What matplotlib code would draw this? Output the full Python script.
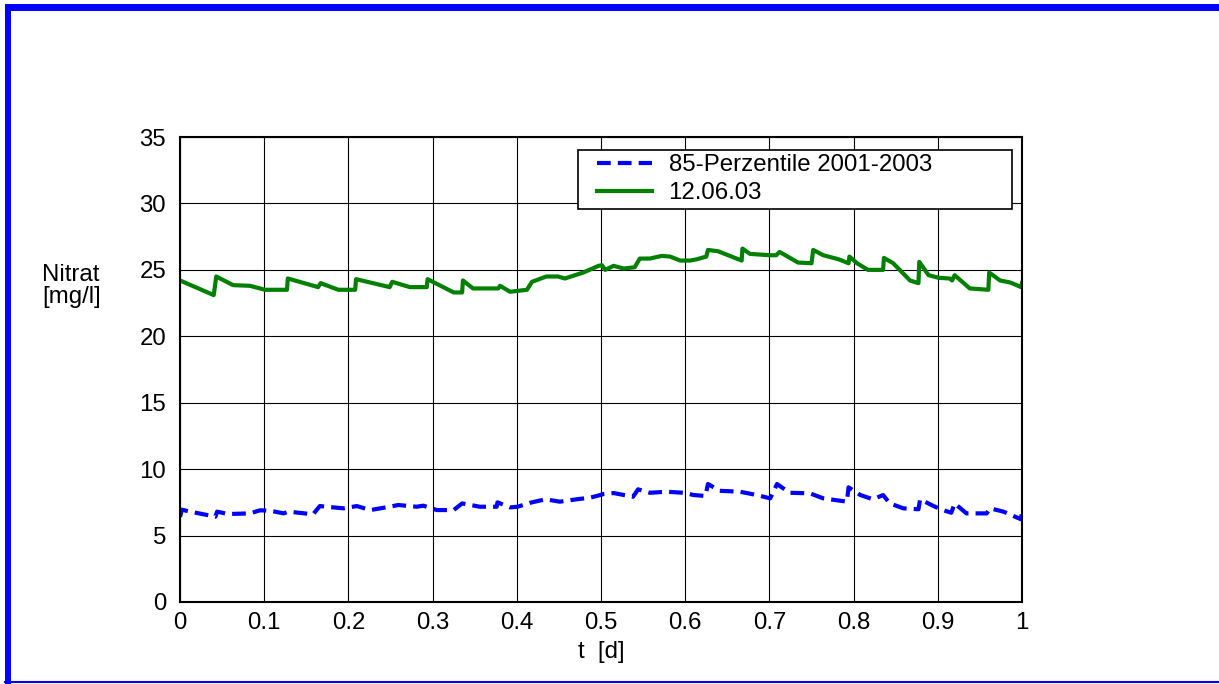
import numpy as np
import matplotlib
matplotlib.use("Agg")
import matplotlib.pyplot as plt
from matplotlib.lines import Line2D
from matplotlib.patches import Rectangle


# 85-Perzentile 2001-2003 (blue dashed)
perz_t = [0.0, 0.002, 0.012, 0.032, 0.042, 0.044, 0.057, 0.083, 0.095, 0.107,
          0.123, 0.129, 0.158, 0.166, 0.194, 0.21, 0.226, 0.249, 0.259, 0.281,
          0.289, 0.305, 0.325, 0.335, 0.356, 0.376, 0.377, 0.392, 0.401, 0.416,
          0.434, 0.451, 0.471, 0.487, 0.499, 0.503, 0.515, 0.538, 0.544, 0.558,
          0.578, 0.598, 0.61, 0.624, 0.627, 0.641, 0.665, 0.685, 0.701, 0.709,
          0.724, 0.748, 0.764, 0.792, 0.794, 0.808, 0.823, 0.835, 0.843, 0.859,
          0.877, 0.879, 0.895, 0.906, 0.916, 0.920, 0.934, 0.958, 0.962, 0.978,
          0.999, 1.0]
perz_v = [6.4, 6.95, 6.8, 6.55, 6.42, 6.8, 6.62, 6.67, 6.9, 6.87,
          6.67, 6.8, 6.6, 7.22, 7.05, 7.22, 6.92, 7.17, 7.3, 7.17,
          7.25, 6.92, 6.92, 7.42, 7.17, 7.17, 7.5, 7.12, 7.17, 7.47,
          7.73, 7.55, 7.73, 7.85, 8.05, 8.13, 8.2, 7.92, 8.48, 8.22,
          8.3, 8.22, 8.05, 7.98, 8.88, 8.37, 8.3, 8.05, 7.8, 8.88,
          8.22, 8.18, 7.8, 7.55, 8.63, 8.05, 7.73, 8.05, 7.42, 7.05,
          6.98, 7.73, 7.22, 6.92, 6.72, 7.42, 6.67, 6.67, 7.05, 6.8,
          6.22, 6.98]

# 12.06.03 (green)
day_t = [0.0, 0.04, 0.043, 0.063, 0.083, 0.101, 0.127, 0.128, 0.164, 0.167,
         0.188, 0.208, 0.209, 0.249, 0.252, 0.273, 0.293, 0.294, 0.325, 0.335,
         0.336, 0.348, 0.378, 0.38, 0.392, 0.412, 0.418, 0.435, 0.449, 0.457,
         0.479, 0.497, 0.501, 0.505, 0.515, 0.527, 0.540, 0.546, 0.558, 0.572,
         0.582, 0.594, 0.606, 0.614, 0.625, 0.627, 0.639, 0.667, 0.668, 0.677,
         0.701, 0.708, 0.712, 0.734, 0.750, 0.752, 0.764, 0.782, 0.794, 0.795,
         0.804, 0.817, 0.835, 0.836, 0.847, 0.867, 0.877, 0.878, 0.889, 0.901,
         0.914, 0.917, 0.920, 0.938, 0.960, 0.961, 0.974, 0.986, 0.999, 1.0]
day_v = [24.2, 23.1, 24.5, 23.85, 23.8, 23.5, 23.5, 24.35, 23.7, 24.0,
         23.5, 23.5, 24.3, 23.7, 24.1, 23.7, 23.7, 24.3, 23.3, 23.3,
         24.2, 23.6, 23.6, 23.8, 23.35, 23.5, 24.1, 24.5, 24.5, 24.35,
         24.8, 25.3, 25.35, 25.0, 25.3, 25.1, 25.2, 25.85, 25.85, 26.05,
         26.0, 25.7, 25.7, 25.8, 26.0, 26.5, 26.4, 25.7, 26.6, 26.2,
         26.1, 26.1, 26.35, 25.55, 25.5, 26.5, 26.1, 25.8, 25.5, 26.0,
         25.5, 25.0, 25.0, 25.9, 25.5, 24.2, 24.0, 25.6, 24.6, 24.4,
         24.35, 24.2, 24.6, 23.6, 23.5, 24.8, 24.2, 24.05, 23.7, 24.0]

x_ticks = [0, 0.1, 0.2, 0.3, 0.4, 0.5, 0.6, 0.7, 0.8, 0.9, 1]
x_labels = ["0", "0.1", "0.2", "0.3", "0.4", "0.5", "0.6", "0.7", "0.8", "0.9", "1"]
y_ticks = [0, 5, 10, 15, 20, 25, 30, 35]

FS = 17.3

plt.rcParams['font.family'] = ['Liberation Sans', 'DejaVu Sans']

fig = plt.figure(figsize=(12.19, 6.84), dpi=100)
ax = fig.add_axes([0.1477, 0.1199, 0.6907, 0.6798])

ax.plot(perz_t, perz_v, color='#0000ff', lw=3, dashes=[3.3, 1.7],
        label='85-Perzentile 2001-2003')
ax.plot(day_t, day_v, color='#008000', lw=3, label='12.06.03')

ax.set_xlim(0, 1)
ax.set_ylim(0, 35)
ax.set_xticks(x_ticks)
ax.set_xticklabels(x_labels)
ax.set_yticks(y_ticks)
ax.tick_params(length=0, labelsize=FS)
ax.tick_params(axis='x', pad=7)
ax.tick_params(axis='y', pad=10)
ax.grid(True, color='black', lw=0.8)
ax.set_axisbelow(True)
for s in ax.spines.values():
    s.set_linewidth(1.5)
    s.set_color('black')

# legend: white box drawn separately, entries placed inside without frame
box = Rectangle((0.4727, 0.845), 0.5153, 0.127, transform=ax.transAxes,
                facecolor='white', edgecolor='black', lw=1.2, zorder=4)
ax.add_patch(box)
leg = ax.legend(loc='upper left', bbox_to_anchor=(0.4952, 0.963), fontsize=FS,
                frameon=False, handlelength=2.3, handletextpad=0.68,
                borderpad=0, labelspacing=0.25, borderaxespad=0)
leg.set_zorder(5)

fig.text(42 / 1219, 1 - 286 / 684, "Nitrat\n[mg/l]", fontsize=FS,
         ha='left', va='center', linespacing=1.05)
fig.text(601 / 1219, 1 - 652 / 684, "t  [d]", fontsize=FS,
         ha='center', va='center')

# blue frame around the picture
W, H = 1219.0, 684.0
fig.add_artist(Rectangle((5 / W, 0), 6 / W, 1 - 4 / H, transform=fig.transFigure,
                         color='#0000ff', lw=0))
fig.add_artist(Rectangle((5 / W, 1 - 10.5 / H), 1, 6.5 / H, transform=fig.transFigure,
                         color='#0000ff', lw=0))
fig.add_artist(Line2D([5 / W, 1], [1 - 682 / H, 1 - 682 / H], transform=fig.transFigure,
                      color='#0000ff', lw=1.5))

fig.savefig("out.png", dpi=100)
